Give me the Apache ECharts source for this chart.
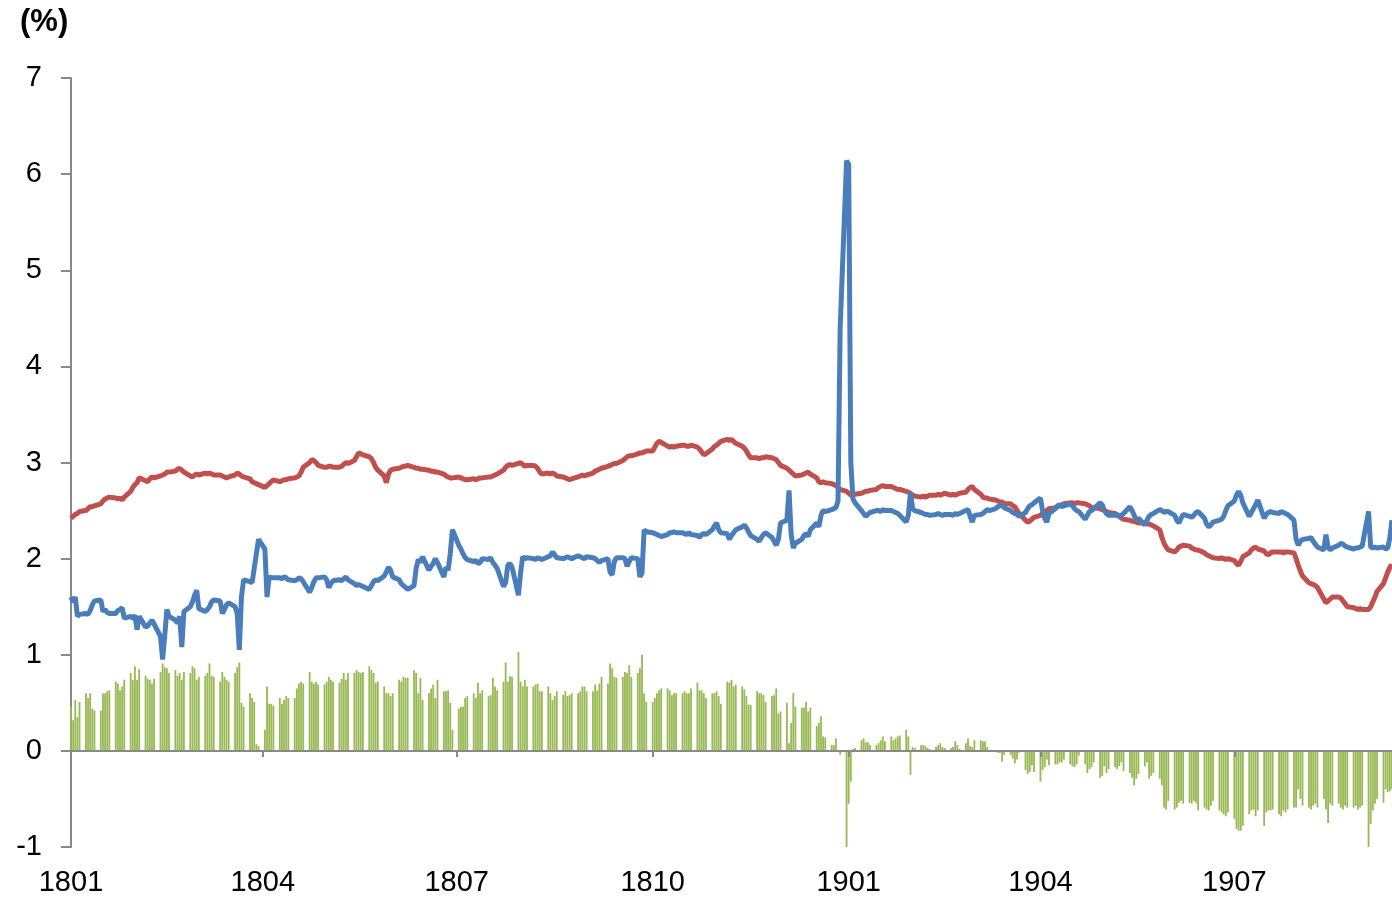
<!DOCTYPE html>
<html>
<head>
<meta charset="utf-8">
<script src="https://cdn.jsdelivr.net/npm/echarts@6/dist/echarts.min.js"></script>
<style>
  html, body { margin: 0; padding: 0; background: #ffffff; }
  #chart { width: 1392px; height: 900px; }
</style>
</head>
<body>
<div id="chart"></div>
<script>
// Calendar span of the axis (one category per calendar day)
const startDate = '2018-01-01';
const endDate = '2019-09-13';
const tickLabels = ['1801', '1804', '1807', '1810', '1901', '1904', '1907'];

// Business-day values (Mon-Fri), one row per week
const redLine = [
  2.42,2.44,2.46,2.47,2.49, 2.50,2.52,2.54,2.54,2.55, 2.57,2.60,2.62,2.63,2.64, 2.63,2.62,2.63,2.61,2.64,
  2.70,2.74,2.77,2.79,2.84, 2.81,2.80,2.83,2.85,2.84, 2.86,2.87,2.88,2.90,2.90, 2.91,2.93,2.94,2.92,2.90,
  2.86,2.85,2.87,2.88,2.87, 2.89,2.88,2.89,2.88,2.87, 2.87,2.86,2.85,2.84,2.85, 2.87,2.89,2.88,2.86,2.85,
  2.83,2.80,2.79,2.78,2.77, 2.74,2.76,2.78,2.80,2.82, 2.80,2.81,2.82,2.82,2.83, 2.84,2.85,2.86,2.90,2.95,
  3.00,3.03,3.02,3.00,2.97, 2.95,2.95,2.96,2.96,2.95, 2.95,2.96,2.98,3.00,2.99, 3.02,3.06,3.10,3.09,3.08,
  3.06,3.04,3.00,2.95,2.92, 2.86,2.79,2.88,2.92,2.93, 2.94,2.95,2.96,2.96,2.97, 2.95,2.94,2.94,2.93,2.93,
  2.92,2.91,2.91,2.90,2.90, 2.88,2.86,2.85,2.84,2.84, 2.85,2.84,2.83,2.82,2.82, 2.83,2.82,2.83,2.84,2.84,
  2.85,2.85,2.86,2.87,2.88, 2.92,2.95,2.97,2.98,2.97, 2.99,3.00,2.98,2.96,2.97, 2.97,2.96,2.94,2.90,2.88,
  2.89,2.88,2.89,2.88,2.86, 2.85,2.84,2.83,2.82,2.83, 2.85,2.86,2.87,2.86,2.87, 2.89,2.91,2.92,2.93,2.94,
  2.96,2.97,2.98,2.99,2.99, 3.02,3.04,3.06,3.07,3.07, 3.09,3.10,3.10,3.11,3.12, 3.12,3.16,3.20,3.22,3.21,
  3.17,3.16,3.17,3.16,3.17, 3.18,3.18,3.17,3.17,3.18, 3.16,3.14,3.11,3.08,3.09, 3.14,3.17,3.18,3.20,3.22,
  3.24,3.23,3.24,3.22,3.20, 3.17,3.15,3.12,3.08,3.05, 3.05,3.04,3.05,3.05,3.06, 3.05,3.04,3.03,3.00,2.97,
  2.94,2.92,2.90,2.88,2.86, 2.87,2.88,2.89,2.90,2.88, 2.84,2.80,2.79,2.80,2.79, 2.78,2.77,2.76,2.74,2.72,
  2.70,2.68,2.66,2.66,2.67, 2.68,2.69,2.70,2.70,2.71, 2.72,2.74,2.75,2.76,2.75, 2.75,2.74,2.73,2.72,2.72,
  2.70,2.69,2.68,2.66,2.65, 2.64,2.65,2.64,2.65,2.66, 2.66,2.67,2.66,2.67,2.68, 2.66,2.67,2.66,2.67,2.68,
  2.69,2.72,2.74,2.75,2.72, 2.67,2.64,2.63,2.63,2.62, 2.61,2.60,2.59,2.59,2.57, 2.57,2.55,2.54,2.50,2.47,
  2.40,2.38,2.39,2.41,2.43, 2.45,2.47,2.48,2.50,2.52, 2.53,2.54,2.55,2.56,2.57, 2.58,2.58,2.57,2.58,2.58,
  2.57,2.56,2.55,2.53,2.53, 2.52,2.51,2.50,2.49,2.48, 2.47,2.45,2.44,2.42,2.41, 2.40,2.39,2.39,2.38,2.37,
  2.37,2.36,2.36,2.35,2.34, 2.30,2.22,2.16,2.12,2.09, 2.07,2.09,2.12,2.13,2.14, 2.13,2.11,2.10,2.09,2.09,
  2.06,2.04,2.03,2.02,2.01, 2.00,2.01,2.00,1.99,2.00, 1.98,1.95,1.93,1.97,2.02, 2.06,2.09,2.11,2.12,2.10,
  2.08,2.05,2.04,2.06,2.07, 2.07,2.07,2.06,2.07,2.07, 2.06,2.00,1.93,1.87,1.82, 1.75,1.74,1.73,1.72,1.70,
  1.58,1.54,1.56,1.58,1.60, 1.60,1.59,1.56,1.53,1.50, 1.49,1.48,1.47,1.48,1.47, 1.47,1.50,1.55,1.60,1.66,
  1.74,1.80,1.86,1.91,1.94
];

const blueLine = [
  1.60,1.55,1.60,1.40,1.42, 1.43,1.42,1.46,1.52,1.56, 1.57,1.45,1.47,1.44,1.43, 1.43,1.46,1.47,1.49,1.38,
  1.40,1.38,1.41,1.26,1.40, 1.29,1.30,1.33,1.36,1.32, 1.19,0.95,1.20,1.47,1.40, 1.36,1.33,1.40,1.08,1.45,
  1.50,1.55,1.62,1.67,1.48, 1.45,1.47,1.50,1.55,1.57, 1.56,1.43,1.47,1.52,1.54, 1.50,1.43,1.05,1.60,1.78,
  1.76,1.75,1.90,2.05,2.20, 2.10,1.60,1.81,1.80,1.80, 1.80,1.79,1.81,1.80,1.78, 1.77,1.78,1.80,1.79,1.76,
  1.65,1.70,1.76,1.80,1.80, 1.81,1.78,1.70,1.74,1.77, 1.78,1.77,1.79,1.81,1.78, 1.74,1.72,1.73,1.72,1.71,
  1.68,1.72,1.76,1.78,1.77, 1.82,1.86,1.91,1.88,1.81, 1.78,1.74,1.72,1.70,1.68, 1.72,1.90,1.99,1.96,2.02,
  1.88,1.92,1.95,2.00,1.96, 1.81,1.91,1.88,2.05,2.30, 2.14,2.10,2.05,2.01,1.99, 1.97,1.98,1.95,1.96,2.00,
  1.99,2.01,1.96,1.93,1.90, 1.71,1.75,1.93,1.95,1.91, 1.62,1.85,2.02,2.00,2.01, 2.00,1.99,2.01,2.00,1.99,
  2.02,2.03,2.07,2.04,2.01, 2.00,2.01,2.02,2.01,2.00, 2.03,2.02,2.01,2.00,2.02, 2.01,2.00,1.98,1.96,1.98,
  2.00,1.86,1.83,1.97,2.01, 2.01,2.00,1.92,1.97,2.01, 2.00,1.81,1.85,2.30,2.28, 2.27,2.26,2.25,2.24,2.23,
  2.25,2.27,2.27,2.28,2.27, 2.27,2.26,2.25,2.27,2.25, 2.24,2.22,2.25,2.26,2.25, 2.30,2.34,2.37,2.30,2.27,
  2.26,2.20,2.24,2.27,2.30, 2.33,2.35,2.32,2.28,2.24, 2.20,2.18,2.22,2.25,2.27, 2.22,2.18,2.14,2.20,2.37,
  2.40,2.71,2.25,2.11,2.16, 2.20,2.24,2.26,2.23,2.30, 2.37,2.33,2.45,2.50,2.49, 2.51,2.52,2.53,2.60,4.40,
  6.14,6.10,3.00,2.62,2.58, 2.50,2.47,2.44,2.46,2.48, 2.50,2.50,2.49,2.51,2.50, 2.50,2.49,2.48,2.47,2.45,
  2.38,2.45,2.69,2.52,2.50, 2.48,2.47,2.46,2.46,2.45, 2.46,2.47,2.46,2.45,2.46, 2.46,2.45,2.47,2.46,2.47,
  2.50,2.51,2.44,2.38,2.45, 2.46,2.47,2.49,2.51,2.50, 2.52,2.54,2.55,2.56,2.53, 2.50,2.48,2.47,2.46,2.44,
  2.48,2.52,2.55,2.56,2.58, 2.63,2.50,2.42,2.38,2.47, 2.52,2.55,2.56,2.54,2.55, 2.57,2.55,2.52,2.50,2.49,
  2.41,2.45,2.49,2.50,2.52, 2.58,2.56,2.50,2.47,2.45, 2.45,2.46,2.44,2.45,2.47, 2.54,2.50,2.45,2.40,2.42,
  2.35,2.40,2.44,2.46,2.47, 2.51,2.50,2.48,2.49,2.49, 2.45,2.40,2.37,2.42,2.46, 2.44,2.43,2.45,2.48,2.49,
  2.42,2.36,2.33,2.35,2.38, 2.40,2.41,2.44,2.50,2.55, 2.60,2.66,2.70,2.66,2.58, 2.44,2.48,2.52,2.56,2.61,
  2.42,2.46,2.48,2.49,2.48, 2.47,2.49,2.48,2.47,2.46, 2.40,2.20,2.14,2.18,2.20, 2.21,2.22,2.18,2.15,2.12,
  2.09,2.25,2.12,2.09,2.11, 2.14,2.16,2.15,2.13,2.12, 2.10,2.11,2.11,2.12,2.13, 2.49,2.12,2.11,2.12,2.11,
  2.12,2.10,2.11,2.22,2.40
];

const spreadBars = [
  0.46,0.32,0.53,0.35,0.51, 0.60,0.55,0.60,0.44,0.42, 0.42,0.60,0.60,0.62,0.63, 0.72,0.70,0.63,0.67,0.74,
  0.81,0.74,0.88,0.74,0.85, 0.78,0.75,0.74,0.70,0.75, 0.82,0.91,0.87,0.86,0.81, 0.84,0.78,0.81,0.74,0.82,
  0.81,0.88,0.86,0.74,0.77, 0.78,0.81,0.91,0.78,0.77, 0.72,0.82,0.77,0.74,0.72, 0.81,0.87,0.92,0.50,0.46,
  0.60,0.55,0.51,0.07,0.05, 0.22,0.67,0.49,0.49,0.47, 0.55,0.49,0.53,0.57,0.55, 0.55,0.65,0.70,0.72,0.70,
  0.82,0.72,0.70,0.72,0.69, 0.69,0.72,0.77,0.74,0.72, 0.71,0.75,0.81,0.74,0.81, 0.81,0.84,0.82,0.81,0.82,
  0.88,0.84,0.81,0.71,0.72, 0.67,0.60,0.60,0.57,0.60, 0.74,0.72,0.77,0.76,0.76, 0.84,0.81,0.60,0.76,0.53,
  0.60,0.65,0.69,0.55,0.74, 0.62,0.62,0.63,0.50,0.22, 0.44,0.46,0.46,0.55,0.57, 0.60,0.55,0.71,0.60,0.63,
  0.57,0.58,0.76,0.67,0.63, 0.72,0.92,0.72,0.78,0.77, 1.03,0.72,0.67,0.74,0.67, 0.67,0.69,0.70,0.62,0.62,
  0.67,0.60,0.53,0.57,0.62, 0.58,0.62,0.57,0.58,0.60, 0.60,0.62,0.67,0.67,0.62, 0.62,0.69,0.63,0.70,0.77,
  0.70,0.91,0.86,0.77,0.76, 0.77,0.82,0.81,0.89,0.77, 0.81,0.86,1.00,0.60,0.51, 0.51,0.55,0.60,0.63,0.65,
  0.65,0.63,0.58,0.60,0.60, 0.60,0.62,0.60,0.60,0.65, 0.71,0.63,0.63,0.60,0.55, 0.60,0.60,0.62,0.57,0.49,
  0.72,0.71,0.74,0.67,0.69, 0.67,0.64,0.57,0.48,0.48, 0.62,0.60,0.60,0.58,0.51, 0.57,0.58,0.65,0.39,0.41,
  0.50,0.08,0.29,0.60,0.46, 0.45,0.45,0.51,0.41,0.45, 0.26,0.29,0.36,0.15,0.14, 0.06,0.06,0.13,0.01,-0.04,
  -1.01,-0.55,-0.32,0.02,0.03, 0.11,0.13,0.09,0.09,0.06, 0.06,0.08,0.11,0.15,0.10, 0.15,0.11,0.13,0.15,0.16,
  0.22,0.15,-0.25,0.04,0.03, 0.06,0.06,0.05,0.03,0.02, 0.04,0.06,0.08,0.04,0.03, 0.03,0.04,0.10,0.06,0.02,
  0.08,0.13,0.05,0.04,0.11, 0.11,0.10,0.10,0.04,0.01, -0.01,-0.02,-0.02,-0.11,-0.04, -0.04,-0.08,-0.13,-0.09,-0.02,
  -0.20,-0.24,-0.22,-0.15,-0.22, -0.32,-0.20,-0.17,-0.09,-0.15, -0.14,-0.14,-0.12,-0.12,-0.09, -0.14,-0.16,-0.17,-0.14,-0.05,
  -0.14,-0.23,-0.19,-0.17,-0.12, -0.28,-0.26,-0.16,-0.23,-0.19, -0.17,-0.19,-0.16,-0.12,-0.21, -0.23,-0.28,-0.36,-0.29,-0.24,
  -0.16,-0.12,-0.29,-0.26,-0.23, -0.29,-0.36,-0.59,-0.61,-0.52, -0.61,-0.59,-0.54,-0.52,-0.55, -0.54,-0.55,-0.52,-0.54,-0.62,
  -0.59,-0.61,-0.62,-0.57,-0.52, -0.62,-0.64,-0.66,-0.68,-0.64, -0.71,-0.81,-0.83,-0.83,-0.78, -0.66,-0.62,-0.61,-0.68,-0.62,
  -0.78,-0.64,-0.62,-0.62,-0.61, -0.66,-0.68,-0.62,-0.64,-0.61, -0.59,-0.59,-0.40,-0.50,-0.57, -0.59,-0.61,-0.57,-0.55,-0.59,
  -0.50,-0.61,-0.75,-0.55,-0.57, -0.55,-0.59,-0.61,-0.57,-0.59, -0.59,-0.57,-0.61,-0.59,-0.57, -1.01,-0.76,-0.62,-0.55,-0.50,
  -0.54,-0.40,-0.43,-0.42,-0.40
];

// Build the list of calendar days for the category axis
const days = [];
const cursor = new Date(startDate + 'T00:00:00Z');
const last = new Date(endDate + 'T00:00:00Z');
while (cursor <= last) {
  days.push(cursor.toISOString().slice(0, 10));
  cursor.setUTCDate(cursor.getUTCDate() + 1);
}

// Place business-day values on the calendar; weekends stay empty
function toCalendar(values) {
  let i = 0;
  return days.map(function (s) {
    const wd = new Date(s + 'T00:00:00Z').getUTCDay();
    if (wd === 0 || wd === 6) return null;
    return i < values.length ? values[i++] : null;
  });
}

function yymm(s) { return s.slice(2, 4) + s.slice(5, 7); }
function isQuarterTick(index, value) {
  const s = value || days[index];
  return s.slice(8) === '01' && tickLabels.indexOf(yymm(s)) >= 0;
}

const AXIS = '#898989';
const FONT = '"Liberation Sans", Arial, sans-serif';

const chart = echarts.init(document.getElementById('chart'), null, { renderer: 'canvas' });
chart.setOption({
  animation: false,
  backgroundColor: '#ffffff',
  grid: { left: 71, right: 0, top: 78, bottom: 53, containLabel: false },
  graphic: [{
    type: 'text', left: 20, top: 7,
    style: { text: '(%)', font: 'bold 31px ' + FONT, fill: '#000000' }
  }],
  xAxis: [
    {
      type: 'category', data: days, boundaryGap: false, z: 5,
      axisLine: { onZero: true, lineStyle: { color: AXIS, width: 2 } },
      axisTick: { show: true, interval: isQuarterTick, length: 6, lineStyle: { color: AXIS, width: 2 } },
      axisLabel: { show: false },
      splitLine: { show: false }
    },
    {
      type: 'category', data: days, boundaryGap: false, position: 'bottom',
      axisLine: { show: false, onZero: false },
      axisTick: { show: false },
      splitLine: { show: false },
      axisLabel: {
        interval: isQuarterTick, formatter: yymm, margin: 21,
        fontSize: 29, color: '#000000', fontFamily: FONT
      }
    }
  ],
  yAxis: {
    type: 'value', min: -1, max: 7, interval: 1,
    axisLine: { show: true, lineStyle: { color: AXIS, width: 2 } },
    axisTick: { show: true, length: 10, lineStyle: { color: AXIS, width: 2 } },
    splitLine: { show: false },
    axisLabel: { margin: 29, fontSize: 29, color: '#000000', fontFamily: FONT }
  },
  series: [
    {
      type: 'bar', xAxisIndex: 0, data: toCalendar(spreadBars),
      barWidth: 1.8, itemStyle: { color: '#97B852' }, silent: true, z: 1
    },
    {
      type: 'line', xAxisIndex: 0, data: toCalendar(redLine), connectNulls: true,
      showSymbol: false, symbol: 'none', lineStyle: { color: '#C0504D', width: 5 },
      silent: true, z: 2
    },
    {
      type: 'line', xAxisIndex: 0, data: toCalendar(blueLine), connectNulls: true,
      showSymbol: false, symbol: 'none', lineStyle: { color: '#4A7EBB', width: 5 },
      silent: true, z: 3
    }
  ]
});
</script>
</body>
</html>
